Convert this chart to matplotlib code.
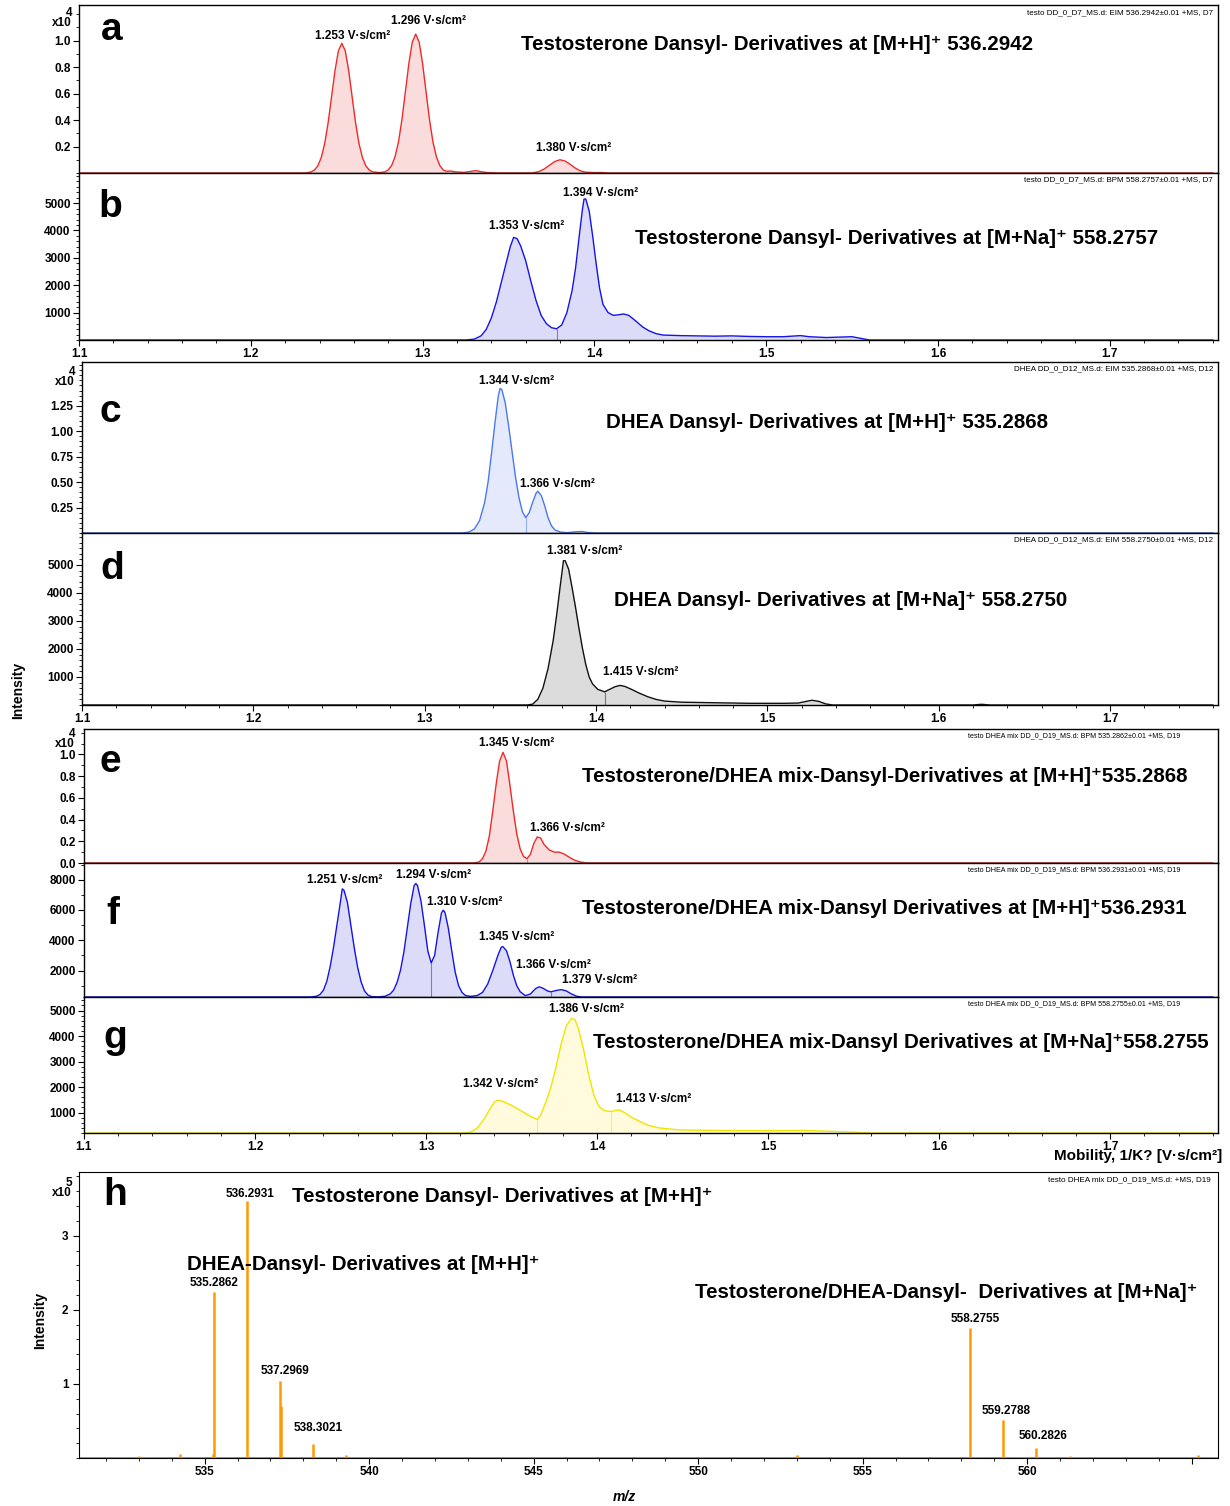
import numpy as np
import matplotlib
matplotlib.use('Agg')
import matplotlib.pyplot as plt
from matplotlib.ticker import MultipleLocator, FixedLocator

plt.rcParams['font.family'] = ['Liberation Sans', 'DejaVu Sans']
plt.rcParams['font.weight'] = 'bold'

W, H = 1230, 1506

''' mobilogram traces, (1/K0, intensity) read off the picture '''
trace_a = [(1.100, 0), (1.232, 0), (1.235, 0.008), (1.237, 0.022), (1.239, 0.053), (1.241, 0.116),
           (1.243, 0.221), (1.245, 0.378), (1.247, 0.574), (1.249, 0.772), (1.251, 0.923), (1.253, 0.98),
           (1.255, 0.923), (1.257, 0.772), (1.259, 0.574), (1.261, 0.378), (1.263, 0.221), (1.265, 0.116),
           (1.267, 0.053), (1.269, 0.022), (1.271, 0.008), (1.275, 0.003), (1.278, 0.008), (1.280, 0.023),
           (1.282, 0.057), (1.284, 0.124), (1.286, 0.237), (1.288, 0.405), (1.290, 0.615), (1.292, 0.827),
           (1.294, 0.989), (1.296, 1.05), (1.298, 0.989), (1.300, 0.827), (1.302, 0.615), (1.304, 0.405),
           (1.306, 0.237), (1.308, 0.124), (1.310, 0.057), (1.312, 0.023), (1.314, 0.013), (1.316, 0.015),
           (1.319, 0.009), (1.324, 0.004), (1.328, 0.012), (1.331, 0.018), (1.334, 0.010), (1.338, 0.002),
           (1.345, 0), (1.364, 0), (1.368, 0.012), (1.371, 0.032), (1.374, 0.060), (1.377, 0.087),
           (1.380, 0.100), (1.383, 0.090), (1.386, 0.065), (1.389, 0.036), (1.392, 0.015), (1.395, 0.006),
           (1.400, 0.003), (1.404, 0.004), (1.408, 0), (1.760, 0)]

trace_b = [(1.100, 0), (1.325, 0), (1.330, 30), (1.334, 150), (1.337, 380), (1.340, 800), (1.343, 1400),
           (1.346, 2150), (1.349, 2900), (1.351, 3400), (1.353, 3750), (1.355, 3700), (1.357, 3450),
           (1.360, 2900), (1.363, 2150), (1.366, 1450), (1.369, 900), (1.372, 600), (1.375, 450),
           (1.378, 410), (1.381, 550), (1.384, 1000), (1.387, 1800), (1.389, 2600), (1.391, 3700),
           (1.393, 4750), (1.394, 5150), (1.395, 5150), (1.397, 4700), (1.399, 3800), (1.401, 2800),
           (1.403, 1900), (1.405, 1300), (1.408, 1000), (1.411, 900), (1.414, 920), (1.417, 950),
           (1.420, 900), (1.424, 700), (1.428, 480), (1.432, 330), (1.436, 230), (1.440, 180),
           (1.450, 160), (1.460, 150), (1.470, 140), (1.480, 150), (1.490, 130), (1.500, 120),
           (1.510, 120), (1.515, 140), (1.520, 160), (1.525, 120), (1.535, 90), (1.545, 110),
           (1.550, 120), (1.555, 60), (1.560, 0), (1.760, 0)]

trace_c = [(1.100, 0), (1.322, 0), (1.326, 0.01), (1.329, 0.04), (1.332, 0.12), (1.335, 0.30),
           (1.337, 0.50), (1.339, 0.78), (1.341, 1.08), (1.343, 1.35), (1.344, 1.42), (1.345, 1.41),
           (1.347, 1.28), (1.349, 1.05), (1.351, 0.80), (1.353, 0.55), (1.355, 0.35), (1.357, 0.21),
           (1.359, 0.15), (1.361, 0.20), (1.363, 0.30), (1.365, 0.39), (1.366, 0.41), (1.368, 0.37),
           (1.370, 0.27), (1.372, 0.15), (1.374, 0.07), (1.376, 0.03), (1.379, 0.01), (1.383, 0.003),
           (1.388, 0.012), (1.392, 0.015), (1.395, 0.005), (1.400, 0), (1.760, 0)]

trace_d = [(1.100, 0), (1.360, 0), (1.363, 30), (1.366, 200), (1.369, 600), (1.372, 1300), (1.375, 2300),
           (1.377, 3200), (1.379, 4200), (1.381, 5150), (1.382, 5150), (1.384, 4850), (1.386, 4200),
           (1.388, 3500), (1.390, 2750), (1.392, 2050), (1.394, 1450), (1.396, 1000), (1.398, 750),
           (1.401, 560), (1.405, 470), (1.408, 560), (1.411, 650), (1.414, 700), (1.417, 660),
           (1.421, 550), (1.425, 430), (1.430, 300), (1.435, 200), (1.440, 140), (1.450, 100),
           (1.460, 90), (1.470, 80), (1.480, 70), (1.490, 60), (1.500, 60), (1.510, 60), (1.518, 70),
           (1.522, 120), (1.526, 170), (1.530, 130), (1.534, 40), (1.538, 0), (1.620, 0), (1.625, 25),
           (1.630, 0), (1.760, 0)]

trace_e = [(1.100, 0), (1.328, 0), (1.331, 0.01), (1.333, 0.04), (1.335, 0.11), (1.337, 0.25),
           (1.339, 0.48), (1.341, 0.73), (1.343, 0.94), (1.345, 1.02), (1.347, 0.94), (1.349, 0.72),
           (1.351, 0.48), (1.353, 0.27), (1.355, 0.13), (1.357, 0.06), (1.359, 0.04), (1.361, 0.08),
           (1.363, 0.18), (1.365, 0.24), (1.367, 0.23), (1.369, 0.17), (1.372, 0.12), (1.375, 0.10),
           (1.378, 0.10), (1.381, 0.08), (1.384, 0.05), (1.387, 0.025), (1.390, 0.01), (1.394, 0),
           (1.760, 0)]

trace_f = [(1.100, 250), (1.232, 250), (1.236, 300), (1.238, 420), (1.240, 700), (1.242, 1300),
           (1.244, 2300), (1.246, 3600), (1.248, 5100), (1.250, 6600), (1.251, 7390), (1.252, 7300),
           (1.254, 6500), (1.256, 5000), (1.258, 3500), (1.260, 2200), (1.262, 1250), (1.264, 650),
           (1.266, 380), (1.268, 280), (1.272, 255), (1.276, 300), (1.279, 450), (1.281, 700),
           (1.283, 1200), (1.285, 2000), (1.287, 3200), (1.289, 4800), (1.291, 6400), (1.293, 7600),
           (1.294, 7750), (1.295, 7600), (1.297, 6600), (1.299, 5000), (1.301, 3300), (1.303, 2500),
           (1.305, 3000), (1.307, 4500), (1.309, 5800), (1.310, 5980), (1.311, 5850), (1.313, 4800),
           (1.315, 3300), (1.317, 1900), (1.319, 1000), (1.321, 550), (1.323, 350), (1.326, 290),
           (1.330, 350), (1.333, 550), (1.336, 1100), (1.339, 2000), (1.342, 3000), (1.344, 3550),
           (1.345, 3570), (1.347, 3300), (1.349, 2600), (1.351, 1700), (1.353, 1000), (1.355, 600),
           (1.358, 340), (1.361, 450), (1.364, 800), (1.366, 920), (1.368, 850), (1.371, 650),
           (1.373, 590), (1.376, 680), (1.379, 740), (1.382, 650), (1.385, 450), (1.388, 300),
           (1.391, 250), (1.760, 250)]

trace_g = [(1.100, 200), (1.322, 200), (1.326, 230), (1.330, 400), (1.334, 750), (1.337, 1100),
           (1.340, 1420), (1.342, 1490), (1.344, 1460), (1.347, 1380), (1.350, 1280), (1.353, 1170),
           (1.356, 1050), (1.359, 930), (1.362, 820), (1.365, 730), (1.367, 900), (1.370, 1400),
           (1.373, 2000), (1.376, 2800), (1.379, 3700), (1.382, 4400), (1.385, 4690), (1.387, 4650),
           (1.389, 4300), (1.392, 3500), (1.395, 2500), (1.398, 1700), (1.401, 1250), (1.404, 1080),
           (1.408, 1040), (1.411, 1090), (1.413, 1100), (1.416, 1000), (1.420, 820), (1.425, 650),
           (1.430, 500), (1.436, 400), (1.448, 320), (1.470, 300), (1.500, 290), (1.520, 300),
           (1.540, 260), (1.550, 230), (1.560, 200), (1.760, 200)]

# integration split marks
splits_b = [1.378]
splits_c = [1.359]
splits_d = [1.405]
splits_e = [1.359]
splits_f = [1.303, 1.373]
splits_g = [1.365, 1.408]

# peak labels: (text, x, y) in data units
peaks_a = [('1.253 V·s/cm²', 1.2594, 1.036), ('1.296 V·s/cm²', 1.3037, 1.149), ('1.380 V·s/cm²', 1.3878, 0.189)]
peaks_b = [('1.353 V·s/cm²', 1.3604, 4164), ('1.394 V·s/cm²', 1.4036, 5369)]
peaks_c = [('1.344 V·s/cm²', 1.3539, 1.493), ('1.366 V·s/cm²', 1.3773, 0.481)]
peaks_d = [('1.381 V·s/cm²', 1.3936, 5497), ('1.415 V·s/cm²', 1.4263, 1178)]
peaks_e = [('1.345 V·s/cm²', 1.3528, 1.106), ('1.366 V·s/cm²', 1.3825, 0.3226)]
peaks_f = [('1.251 V·s/cm²', 1.2524, 7977), ('1.294 V·s/cm²', 1.3043, 8307), ('1.310 V·s/cm²', 1.3224, 6524),
           ('1.345 V·s/cm²', 1.3528, 4213), ('1.366 V·s/cm²', 1.3744, 2363), ('1.379 V·s/cm²', 1.4012, 1373)]
peaks_g = [('1.386 V·s/cm²', 1.3936, 5060), ('1.342 V·s/cm²', 1.3434, 2120), ('1.413 V·s/cm²', 1.4333, 1532)]

titles = ['Testosterone Dansyl- Derivatives at [M+H]⁺ 536.2942',
          'Testosterone Dansyl- Derivatives at [M+Na]⁺ 558.2757',
          'DHEA Dansyl- Derivatives at [M+H]⁺ 535.2868',
          'DHEA Dansyl- Derivatives at [M+Na]⁺ 558.2750',
          'Testosterone/DHEA mix-Dansyl-Derivatives at [M+H]⁺535.2868',
          'Testosterone/DHEA mix-Dansyl Derivatives at [M+H]⁺536.2931',
          'Testosterone/DHEA mix-Dansyl Derivatives at [M+Na]⁺558.2755']
infos = ['testo DD_0_D7_MS.d: EIM 536.2942±0.01 +MS, D7',
         'testo DD_0_D7_MS.d: BPM 558.2757±0.01 +MS, D7',
         'DHEA DD_0_D12_MS.d: EIM 535.2868±0.01 +MS, D12',
         'DHEA DD_0_D12_MS.d: EIM 558.2750±0.01 +MS, D12',
         'testo DHEA mix DD_0_D19_MS.d: BPM 535.2862±0.01 +MS, D19',
         'testo DHEA mix DD_0_D19_MS.d: BPM 536.2931±0.01 +MS, D19',
         'testo DHEA mix DD_0_D19_MS.d: BPM 558.2755±0.01 +MS, D19']

''' mass spectrum (panel h), intensity in 1e5 '''
mz = [533.00, 533.22, 534.26, 535.25, 535.2862, 536.2931, 537.02, 537.2969, 537.33, 538.3021,
      539.29, 540.30, 552.20, 553.00, 554.10, 558.2755, 559.2788, 560.2826, 561.30, 565.20]
inten = [0.025, 0.02, 0.06, 0.05, 2.24, 3.47, 0.01, 1.04, 0.70, 0.19,
         0.04, 0.015, 0.01, 0.035, 0.015, 1.75, 0.51, 0.13, 0.025, 0.04]
ms_labels = [('536.2931', 536.38, 3.56), ('535.2862', 535.28, 2.36), ('537.2969', 537.44, 1.18),
             ('538.3021', 538.44, 0.40), ('558.2755', 558.41, 1.87), ('559.2788', 559.36, 0.64),
             ('560.2826', 560.48, 0.30)]
mz_ticks = [535, 540, 545, 550, 555, 560, 565]
mz_ticklabels = ['535', '540', '545', '550', '555', '560', '']

fig = plt.figure(figsize=(W / 100, H / 100), dpi=100)


def add_ax(left, top, bottom, right=1218):
    return fig.add_axes([left / W, 1 - bottom / H, (right - left) / W, (bottom - top) / H])


def ftext(px, py, s, **kw):
    fig.text(px / W, 1 - py / H, s, **kw)


def mobilogram(ax, trace, line, fill, ylim, yticks, ylabels, yminor, splits, peaks, xlab):
    xs, ys = np.array(trace).T
    ax.fill_between(xs, ylim[0], ys, color=fill, lw=0)
    ax.plot(xs, ys, color=line, lw=1.0)
    for s in splits:
        ax.vlines(s, ylim[0], np.interp(s, xs, ys), color=line, lw=0.8, alpha=0.5)
    for txt, px, py in peaks:
        ax.text(px, py, txt, fontsize=8.5, ha='center', va='center')
    ax.set_xlim(1.1, 1.763)
    ax.set_ylim(*ylim)
    ax.yaxis.set_major_locator(FixedLocator(yticks))
    ax.set_yticklabels(ylabels)
    ax.yaxis.set_minor_locator(MultipleLocator(yminor))
    ax.xaxis.set_major_locator(MultipleLocator(0.1))
    ax.xaxis.set_minor_locator(MultipleLocator(0.02))
    ax.tick_params(axis='both', which='major', direction='out', length=4, width=0.8, labelsize=8.5, pad=2)
    ax.tick_params(axis='both', which='minor', direction='out', length=2, width=0.6)
    ax.tick_params(axis='x', pad=1.5)
    if not xlab:
        ax.tick_params(axis='x', which='both', bottom=False, labelbottom=False)
    for sp in ax.spines.values():
        sp.set_linewidth(1.0)


ax_a = add_ax(79, 5, 173)
mobilogram(ax_a, trace_a, '#EE2A2A', '#FADCDC', (0, 1.27), [0.2, 0.4, 0.6, 0.8, 1.0],
           ['0.2', '0.4', '0.6', '0.8', '1.0'], 0.1, [], peaks_a, False)
ax_b = add_ax(79, 173, 340)
mobilogram(ax_b, trace_b, '#1414E8', '#DCDCF8', (0, 6100), [1000, 2000, 3000, 4000, 5000],
           ['1000', '2000', '3000', '4000', '5000'], 200, splits_b, peaks_b, True)
ax_c = add_ax(82, 362, 533)
mobilogram(ax_c, trace_c, '#4A78EE', '#E4EAFB', (0, 1.68), [0.25, 0.5, 0.75, 1.0, 1.25],
           ['0.25', '0.50', '0.75', '1.00', '1.25'], 0.05, splits_c, peaks_c, False)
ax_d = add_ax(82, 533, 705)
mobilogram(ax_d, trace_d, '#111111', '#DCDCDC', (0, 6140), [1000, 2000, 3000, 4000, 5000],
           ['1000', '2000', '3000', '4000', '5000'], 200, splits_d, peaks_d, True)
ax_e = add_ax(84, 729, 863)
mobilogram(ax_e, trace_e, '#EE2A2A', '#FADCDC', (0, 1.235), [0.0, 0.2, 0.4, 0.6, 0.8, 1.0],
           ['0.0', '0.2', '0.4', '0.6', '0.8', '1.0'], 0.1, splits_e, peaks_e, False)
ax_f = add_ax(84, 863, 997)
mobilogram(ax_f, trace_f, '#1414E8', '#DCDCF8', (250, 9100), [2000, 4000, 6000, 8000],
           ['2000', '4000', '6000', '8000'], 1000, splits_f, peaks_f, False)
ax_g = add_ax(84, 997, 1133)
mobilogram(ax_g, trace_g, '#F0E400', '#FFFBDC', (200, 5530), [1000, 2000, 3000, 4000, 5000],
           ['1000', '2000', '3000', '4000', '5000'], 200, splits_g, peaks_g, True)

title_pos = [(521, 45), (635, 239), (606, 423), (614, 601), (582, 776), (582, 908), (593, 1043)]
info_pos = [(1213, 13), (1213, 180), (1213, 369), (1213, 540), (1180, 736), (1180, 870), (1180, 1004)]
info_size = [5.8, 5.8, 5.8, 5.8, 5.1, 5.1, 5.1]
letter_pos = [('a', 112, 30), ('b', 110, 207), ('c', 110, 412), ('d', 112, 569),
              ('e', 110, 762), ('f', 113, 914), ('g', 115, 1038), ('h', 115, 1195)]
for t, (px, py) in zip(titles, title_pos):
    ftext(px, py, t, fontsize=14.75, ha='left', va='center')
for t, (px, py), fs in zip(infos, info_pos, info_size):
    ftext(px, py, t, fontsize=fs, ha='right', va='center', fontweight='normal')
for l, px, py in letter_pos:
    ftext(px, py, l, fontsize=28, ha='center', va='center')

# x10 exponents
for px, py, e in [(72, 23, '4'), (75, 382, '4'), (75, 744, '4'), (72, 1193, '5')]:
    ftext(px, py, 'x10', fontsize=8.5, ha='right', va='center')
    ftext(px - 3, py - 10, e, fontsize=8.5, ha='center', va='center')

ftext(18, 690, 'Intensity', fontsize=10, rotation=90, ha='center', va='center')
ftext(1222, 1156, 'Mobility, 1/K? [V·s/cm²]', fontsize=11, ha='right', va='center')

''' panel h: mass spectrum '''
ax_h = add_ax(79, 1172, 1458)
ax_h.axhline(0, color='#C07A10', lw=1.2)
ax_h.vlines(mz, 0, inten, color='#FF9900', lw=1.8)
for txt, px, py in ms_labels:
    ax_h.text(px, py, txt, fontsize=8.5, ha='center', va='center')
ax_h.set_xlim(531.18, 565.8)
ax_h.set_ylim(0, 3.86)
ax_h.xaxis.set_major_locator(FixedLocator(mz_ticks))
ax_h.set_xticklabels(mz_ticklabels)
ax_h.xaxis.set_minor_locator(MultipleLocator(1))
ax_h.yaxis.set_major_locator(FixedLocator([1, 2, 3]))
ax_h.yaxis.set_minor_locator(MultipleLocator(0.2))
ax_h.tick_params(axis='both', which='major', direction='out', length=4, width=0.8, labelsize=8.5)
ax_h.tick_params(axis='both', which='minor', direction='out', length=2, width=0.6)
ax_h.tick_params(axis='x', pad=2)
ftext(292, 1196, 'Testosterone Dansyl- Derivatives at [M+H]⁺', fontsize=14.75, ha='left', va='center')
ftext(187, 1265, 'DHEA-Dansyl- Derivatives at [M+H]⁺', fontsize=14.75, ha='left', va='center')
ftext(695, 1292, 'Testosterone/DHEA-Dansyl-  Derivatives at [M+Na]⁺', fontsize=14.75, ha='left', va='center')
ftext(1211, 1180, 'testo DHEA mix DD_0_D19_MS.d: +MS, D19', fontsize=5.9, ha='right', va='center',
      fontweight='normal')
ftext(40, 1320, 'Intensity', fontsize=10, rotation=90, ha='center', va='center')
ftext(624, 1497, 'm/z', fontsize=10, style='italic', ha='center', va='center')

plt.savefig('out.png', dpi=100)
